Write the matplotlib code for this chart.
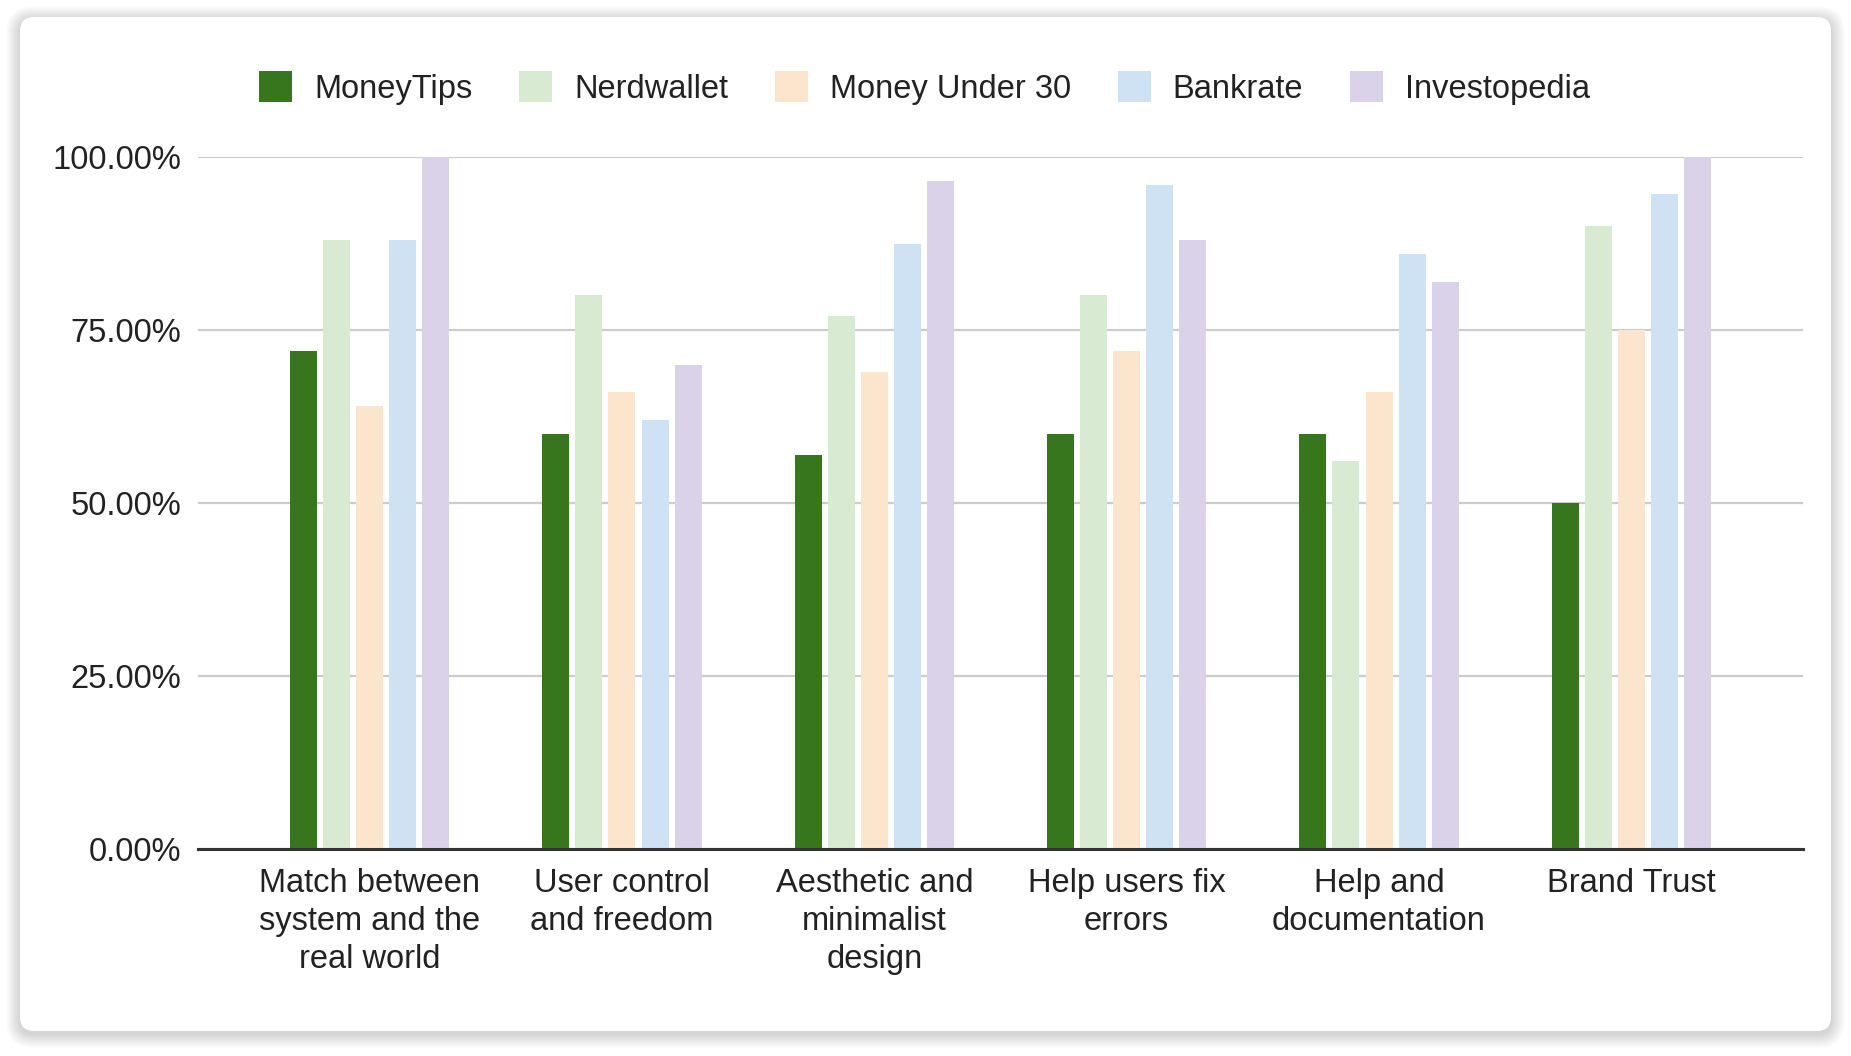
import matplotlib
matplotlib.use("Agg")
import matplotlib.pyplot as plt
import numpy as np
from matplotlib.patches import FancyBboxPatch

plt.rcParams['font.family'] = ['Liberation Sans', 'DejaVu Sans']

categories = ["Match between\nsystem and the\nreal world", "User control\nand freedom",
              "Aesthetic and\nminimalist\ndesign", "Help users fix\nerrors",
              "Help and\ndocumentation", "Brand Trust"]
series = ["MoneyTips", "Nerdwallet", "Money Under 30", "Bankrate", "Investopedia"]
moneytips = [72, 60, 57, 60, 60, 50]
nerdwallet = [88, 80, 77, 80, 56, 90]
money_under_30 = [64, 66, 69, 72, 66, 75]
bankrate = [88, 62, 87.5, 96, 86, 94.6]
investopedia = [100, 70, 96.5, 88, 82, 100]
yticks = [0, 25, 50, 75, 100]
ytick_labels = ["0.00%", "25.00%", "50.00%", "75.00%", "100.00%"]

colors = ["#38761d", "#d9ead3", "#fce5cd", "#cfe2f3", "#d9d2e9"]
values = [moneytips, nerdwallet, money_under_30, bankrate, investopedia]

W, H = 1851, 1056
fig = plt.figure(figsize=(W / 100, H / 100), dpi=100)
fig.patch.set_facecolor("white")

# card background with soft shadow, drawn in pixel units
bg = fig.add_axes([0, 0, 1, 1])
bg.set_xlim(0, W)
bg.set_ylim(0, H)
bg.axis("off")
cx0, cy0, cx1, cy1 = 20, H - 1031, 1831, H - 17
for i in range(14, 0, -1):
    bg.add_patch(FancyBboxPatch((cx0 - i, cy0 - i - 3), (cx1 - cx0) + 2 * i, (cy1 - cy0) + 2 * i,
                                boxstyle="round,pad=0,rounding_size=%d" % (14 + i),
                                facecolor="#000000", edgecolor="none", alpha=0.012))
bg.add_patch(FancyBboxPatch((cx0, cy0), cx1 - cx0, cy1 - cy0,
                            boxstyle="round,pad=0,rounding_size=14",
                            facecolor="white", edgecolor="none"))

ax = fig.add_axes([198 / W, 1 - 849 / H, (1803 - 198) / W, (849 - 157) / H])
ax.set_facecolor("none")

x = np.arange(len(categories))
step = 0.131
bar_w = 0.107
handles = []
for i, (name, vals, c) in enumerate(zip(series, values, colors)):
    b = ax.bar(x + (i - 2) * step, vals, width=bar_w, color=c, label=name, zorder=3)
    handles.append(b)

ax.set_xlim(-0.68, len(categories) - 1 + 0.68)
ax.set_ylim(0, 100)
ax.set_yticks(yticks)
ax.set_yticklabels(ytick_labels)
ax.set_xticks(x)
ax.set_xticklabels(categories, linespacing=1.29)
ax.tick_params(axis="both", length=0, labelsize=23.5, colors="#222222")
ax.tick_params(axis="y", pad=12)
ax.tick_params(axis="x", pad=14)

ax.grid(axis="y", color="#cccccc", linewidth=1.6, zorder=0)
for s in ["top", "right", "left"]:
    ax.spines[s].set_visible(False)
ax.spines["bottom"].set_color("#333333")
ax.spines["bottom"].set_linewidth(2.2)
ax.spines["bottom"].set_zorder(4)

fig.legend(handles=handles, labels=series, loc="center", bbox_to_anchor=(0.4995, 1 - 88 / H),
           ncol=5, frameon=False, fontsize=23.5, handlelength=1.0, handleheight=1.1,
           handletextpad=0.68, columnspacing=1.44, labelcolor="#222222")

fig.savefig("out.png", dpi=100)
